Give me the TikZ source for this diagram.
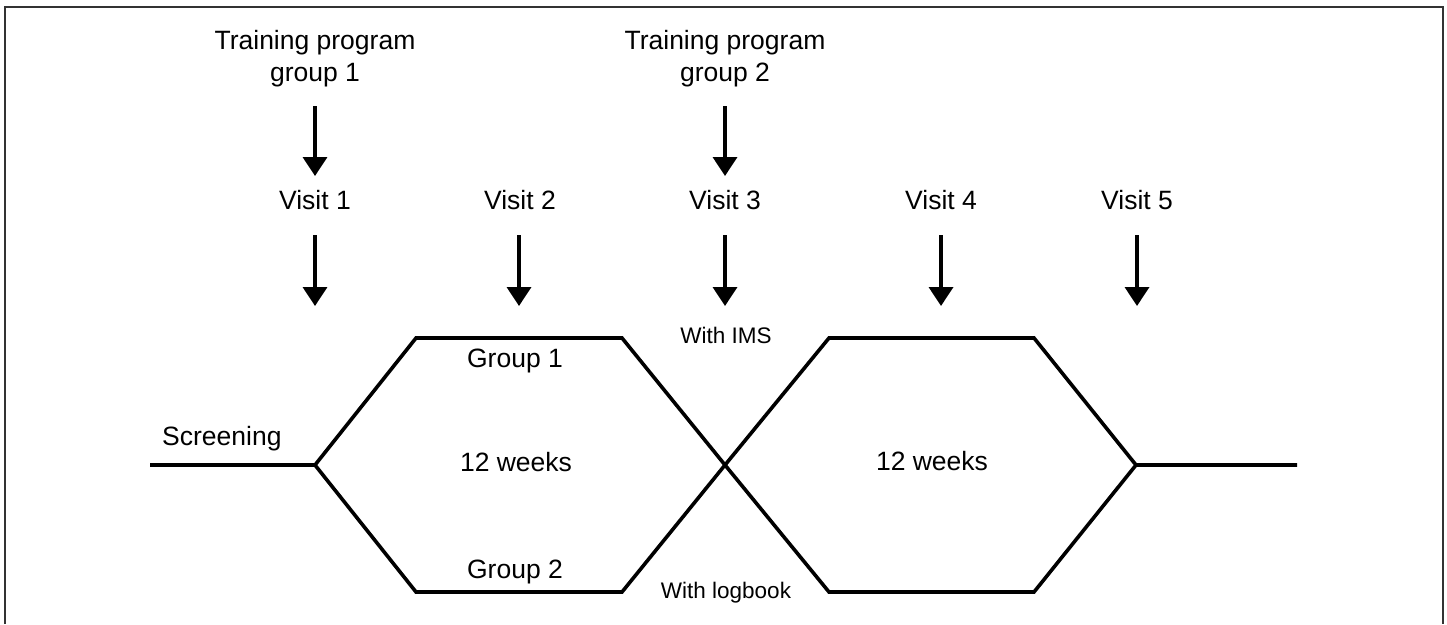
\documentclass[tikz,border=0pt]{standalone}
\usepackage{fontspec}
\setmainfont{Liberation Sans}
\usetikzlibrary{arrows.meta}
\begin{document}
\begin{tikzpicture}[x=1pt,y=-1pt,
  lbl/.style={inner sep=0pt,anchor=base,font=\fontsize{26.5}{32}\selectfont},
  small/.style={inner sep=0pt,anchor=base,font=\fontsize{22.5}{27}\selectfont},
  thick line/.style={line width=3.6pt,line join=miter},
  arr/.style={line width=3.6pt,-{Triangle[length=19pt,width=24pt]}},
  frame/.style={line width=1.6pt,draw=black!80}]
\useasboundingbox (0,0) rectangle (1447,624);
\draw[frame] (5,624) -- (5,7) -- (1443,7) -- (1443,624);

% labels
\node[lbl] (tp1a) at (315,49) {Training program};
\node[lbl] (tp1b) at (315,81) {group 1};
\node[lbl] (tp2a) at (725,49) {Training program};
\node[lbl] (tp2b) at (725,81) {group 2};
\node[lbl] (v1) at (315,209) {Visit 1};
\node[lbl] (v2) at (520,209) {Visit 2};
\node[lbl] (v3) at (725,209) {Visit 3};
\node[lbl] (v4) at (941,209) {Visit 4};
\node[lbl] (v5) at (1137,209) {Visit 5};
\node[lbl,anchor=base west] (scr) at (162,445) {Screening};
\node[lbl] (w1) at (516,471) {12 weeks};
\node[lbl] (w2) at (932,470) {12 weeks};
\node[lbl] (g1) at (515,367) {Group 1};
\node[lbl] (g2) at (515,578) {Group 2};
\node[small] (ims) at (726,343) {With IMS};
\node[small] (logb) at (726,598) {With logbook};

% arrow coordinates
\coordinate (a1s) at (315,106); \coordinate (a1e) at (315,176);
\coordinate (a3s) at (725,106); \coordinate (a3e) at (725,176);
\foreach \n/\x in {1/315,2/519,3/725,4/941,5/1137}{
  \coordinate (b\n s) at (\x,235);
  \coordinate (b\n e) at (\x,306);
}
\draw[arr] (a1s) -- (a1e);
\draw[arr] (a3s) -- (a3e);
\foreach \n in {1,...,5}{\draw[arr] (b\n s) -- (b\n e);}

% timeline
\coordinate (L0) at (150,465);
\coordinate (L1) at (315,465);
\coordinate (H1tl) at (416,338);
\coordinate (H1tr) at (622,338);
\coordinate (H1bl) at (416,592);
\coordinate (H1br) at (622,592);
\coordinate (X) at (725,465);
\coordinate (H2tl) at (829,338);
\coordinate (H2tr) at (1034,338);
\coordinate (H2bl) at (829,592);
\coordinate (H2br) at (1034,592);
\coordinate (R1) at (1136,465);
\coordinate (R0) at (1297,465);

\draw[thick line] (L0) -- (L1) -- (H1tl) -- (H1tr) -- (X) -- (H2bl) -- (H2br) -- (R1) -- (R0);
\draw[thick line] (L1) -- (H1bl) -- (H1br) -- (X) -- (H2tl) -- (H2tr) -- (R1);
\end{tikzpicture}
\end{document}
